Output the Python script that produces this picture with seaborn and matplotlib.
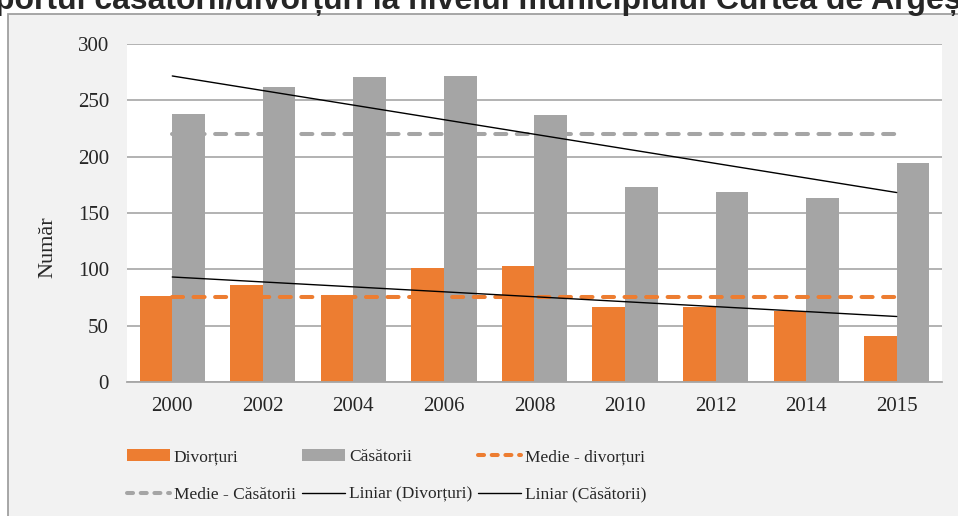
import numpy as np
import pandas as pd
import matplotlib
matplotlib.use("Agg")
import matplotlib.pyplot as plt
from matplotlib.lines import Line2D
from matplotlib.patches import Patch, Rectangle
import seaborn as sns

# ── Data ──────────────────────────────────────────────────────────────────────
ANI        = ["2000", "2002", "2004", "2006", "2008", "2010", "2012", "2014", "2015"]
DIVORTURI  = [76, 86, 77, 101, 103, 67, 67, 63, 41]
CASATORII  = [238, 262, 271, 272, 237, 173, 169, 163, 194]

TITLU = "Raportul căsătorii/divorțuri la nivelul municipiului Curtea de Argeș"

C_DIV = "#ed7d31"
C_CAS = "#a5a5a5"
C_GRID = "#a6a6a6"

sns.set_style("white")
plt.rcParams["font.family"] = ["Liberation Serif", "DejaVu Serif"]

df = pd.DataFrame({
    "An": ANI * 2,
    "Număr": DIVORTURI + CASATORII,
    "Serie": ["Divorțuri"] * len(ANI) + ["Căsătorii"] * len(ANI),
})

fig = plt.figure(figsize=(9.58, 5.16), dpi=100, facecolor="white")
# chart area frame (grey)
fig.add_artist(Rectangle((8 / 958, -0.2), 1.0, 1 - 14 / 516 + 0.2,
                         transform=fig.transFigure, facecolor="#f2f2f2",
                         edgecolor="#a0a0a0", lw=1.3, zorder=-5))

ax = fig.add_axes([127 / 958, 1 - 382 / 516, 815 / 958, 338 / 516])
ax.set_facecolor("white")

sns.barplot(data=df, x="An", y="Număr", hue="Serie", ax=ax,
            palette={"Divorțuri": C_DIV, "Căsătorii": C_CAS},
            width=0.72, saturation=1, linewidth=0, legend=False)

xs = np.arange(len(ANI))
idx = np.arange(1, len(ANI) + 1)

# average lines
m_div = np.mean(DIVORTURI)
m_cas = np.mean(CASATORII)
ax.plot(xs, [m_div] * len(xs), color=C_DIV, lw=2.9, dashes=(2.75, 2.6),
        dash_capstyle="round", zorder=3)
ax.plot(xs, [m_cas] * len(xs), color=C_CAS, lw=2.9, dashes=(2.75, 2.6),
        dash_capstyle="round", zorder=3)

# linear trends (Excel style, x = 1..n)
k, b = np.polyfit(idx, DIVORTURI, 1)
ax.plot(xs, k * idx + b, color="black", lw=1.0, zorder=4)
k, b = np.polyfit(idx, CASATORII, 1)
ax.plot(xs, k * idx + b, color="black", lw=1.0, zorder=4)

ax.set_xlim(-0.5, len(ANI) - 0.5)
ax.set_ylim(0, 300)
ax.set_yticks(range(0, 301, 50))
ax.set_axisbelow(True)
ax.yaxis.grid(True, color=C_GRID, lw=1.2)
for s in ("left", "right", "top"):
    ax.spines[s].set_visible(False)
ax.spines["bottom"].set_color(C_GRID)
ax.spines["bottom"].set_linewidth(1.3)
ax.tick_params(axis="both", length=0, labelsize=15)
ax.tick_params(axis="y", pad=13)
ax.tick_params(axis="x", pad=11)
ax.set_xlabel("")
ax.set_ylabel("Număr", fontsize=16)
ax.yaxis.set_label_coords(-0.085, 0.40)

# legend (column-major order so rows read like the original)
h_div = Patch(facecolor=C_DIV, edgecolor="none")
h_cas = Patch(facecolor=C_CAS, edgecolor="none")
h_mdiv = Line2D([], [], color=C_DIV, lw=2.9, dashes=(1.5, 1.9), dash_capstyle="round")
h_mcas = Line2D([], [], color=C_CAS, lw=2.9, dashes=(1.5, 1.9), dash_capstyle="round")
h_ld = Line2D([], [], color="black", lw=1.0)
h_lc = Line2D([], [], color="black", lw=1.0)
handles = [h_div, h_mcas, h_cas, h_ld, h_mdiv, h_lc]
labels = ["Divorțuri", "Medie - Căsătorii", "Căsătorii", "Liniar (Divorțuri)",
          "Medie - divorțuri", "Liniar (Căsătorii)"]
fig.legend(handles, labels, ncol=3, loc="upper left",
           bbox_to_anchor=(127 / 958, 1 - 449 / 516), frameon=False,
           fontsize=12.5, borderpad=0, borderaxespad=0, handlelength=2.47,
           handletextpad=0.23, columnspacing=0.35, labelspacing=1.25,
           handleheight=0.65)

fig.text(962 / 958, 1 - 9 / 516, TITLU, ha="right", va="baseline",
         fontsize=23, fontweight="bold", family=["Liberation Sans", "DejaVu Sans"])

fig.savefig("out.png", dpi=100)
